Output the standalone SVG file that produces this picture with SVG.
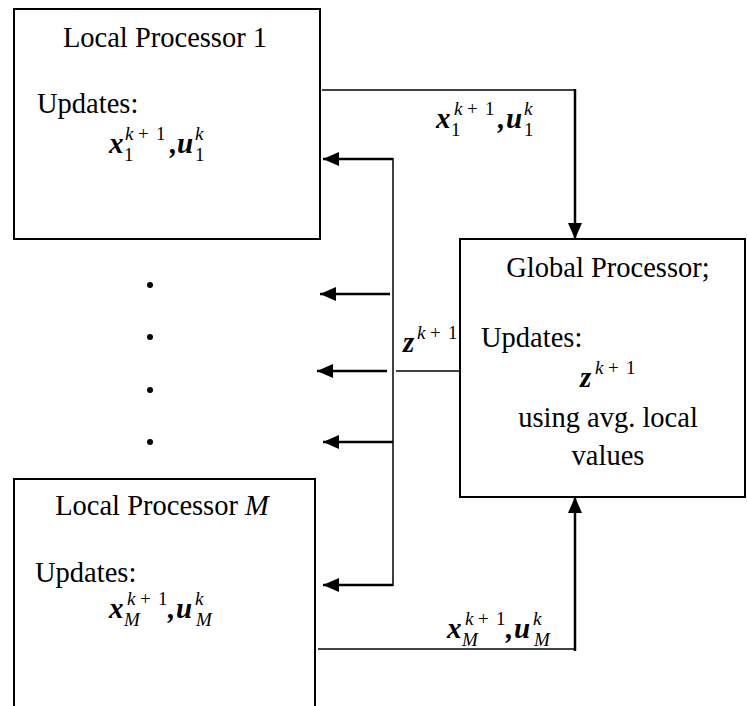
<svg xmlns="http://www.w3.org/2000/svg" width="747" height="706" viewBox="0 0 747 706">
<style>
.box{fill:#fff;stroke:#000;stroke-width:2}
.t{font-family:"Liberation Serif","Times New Roman",serif;font-size:28.5px;fill:#000}
.m{font-family:"Liberation Serif","Times New Roman",serif;font-size:29px;font-weight:bold;font-style:italic;fill:#000}
.s{font-family:"Liberation Serif","Times New Roman",serif;font-size:19px;fill:#000}
.i{font-style:italic}
.thin{stroke:#000;stroke-width:1.5;fill:none}
.thick{stroke:#000;stroke-width:2.5;fill:none}
</style>
<defs>
<marker id="ah" markerUnits="userSpaceOnUse" markerWidth="16" markerHeight="14" viewBox="0 0 16 14" refX="16" refY="7" orient="auto">
<path d="M0,0 L16,7 L0,14 z" fill="#000"/>
</marker>
</defs>
<rect width="747" height="706" fill="#fff"/>

<g id="local1">
<rect class="box" x="14" y="9" width="306" height="230"/>
<text class="t" x="165" y="47" text-anchor="middle">Local Processor 1</text>
<text class="t" x="37" y="113">Updates:</text>
<text class="m" x="109" y="153">x</text>
<text class="s i" x="125" y="140">k</text><text class="s" x="138" y="140">+</text><text class="s" x="156" y="140">1</text>
<text class="s" x="124" y="161">1</text>
<text class="m" x="170" y="153">,</text>
<text class="m" x="177" y="153">u</text>
<text class="s i" x="195" y="140">k</text>
<text class="s" x="195" y="161">1</text>
</g>

<g id="localM">
<rect class="box" x="14" y="479" width="301" height="250"/>
<text class="t" x="162" y="515" text-anchor="middle">Local Processor <tspan class="i">M</tspan></text>
<text class="t" x="35" y="582">Updates:</text>
<text class="m" x="109" y="618">x</text>
<text class="s i" x="127" y="605">k</text><text class="s" x="140" y="605">+</text><text class="s" x="158" y="605">1</text>
<text class="s i" x="124" y="626">M</text>
<text class="m" x="168" y="618">,</text>
<text class="m" x="176" y="618">u</text>
<text class="s i" x="195" y="605">k</text>
<text class="s i" x="196" y="626">M</text>
</g>

<g id="global">
<rect class="box" x="460" y="239" width="285" height="258"/>
<text class="t" x="608" y="277" text-anchor="middle">Global Processor;</text>
<text class="t" x="481" y="347">Updates:</text>
<text class="m" x="580" y="387">z</text>
<text class="s i" x="595" y="374">k</text><text class="s" x="608" y="374">+</text><text class="s" x="626" y="374">1</text>
<text class="t" x="608" y="427" text-anchor="middle">using avg. local</text>
<text class="t" x="608" y="465" text-anchor="middle">values</text>
</g>

<g id="dots" fill="#000">
<circle cx="150" cy="285" r="3"/>
<circle cx="150" cy="337" r="3"/>
<circle cx="150" cy="390" r="3"/>
<circle cx="150" cy="442" r="3"/>
</g>

<g id="connectors">
<polyline class="thin" points="322,90 575,90"/>
<line class="thick" x1="575" y1="89" x2="575" y2="239" marker-end="url(#ah)"/>
<line class="thin" x1="393" y1="158" x2="393" y2="586"/>
<line class="thick" x1="393" y1="159" x2="323" y2="159" marker-end="url(#ah)"/>
<line class="thick" x1="390" y1="294" x2="320" y2="294" marker-end="url(#ah)"/>
<line class="thick" x1="387" y1="371" x2="317" y2="371" marker-end="url(#ah)"/>
<line class="thin" x1="396" y1="371" x2="460" y2="371"/>
<line class="thick" x1="393" y1="442" x2="323" y2="442" marker-end="url(#ah)"/>
<line class="thick" x1="393" y1="585" x2="323" y2="585" marker-end="url(#ah)"/>
<line class="thin" x1="318" y1="649" x2="574" y2="649"/>
<line class="thick" x1="575" y1="651" x2="575" y2="497" marker-end="url(#ah)"/>
</g>

<g id="labels">
<text class="m" x="436" y="128">x</text>
<text class="s i" x="454" y="115">k</text><text class="s" x="467" y="115">+</text><text class="s" x="485" y="115">1</text>
<text class="s" x="451" y="136">1</text>
<text class="m" x="498" y="128">,</text>
<text class="m" x="506" y="128">u</text>
<text class="s i" x="524" y="115">k</text>
<text class="s" x="524" y="136">1</text>

<text class="m" x="403" y="352">z</text>
<text class="s i" x="417" y="339">k</text><text class="s" x="430" y="339">+</text><text class="s" x="448" y="339">1</text>

<text class="m" x="447" y="638">x</text>
<text class="s i" x="465" y="625">k</text><text class="s" x="478" y="625">+</text><text class="s" x="496" y="625">1</text>
<text class="s i" x="462" y="646">M</text>
<text class="m" x="506" y="638">,</text>
<text class="m" x="514" y="638">u</text>
<text class="s i" x="533" y="625">k</text>
<text class="s i" x="534" y="646">M</text>
</g>
</svg>
